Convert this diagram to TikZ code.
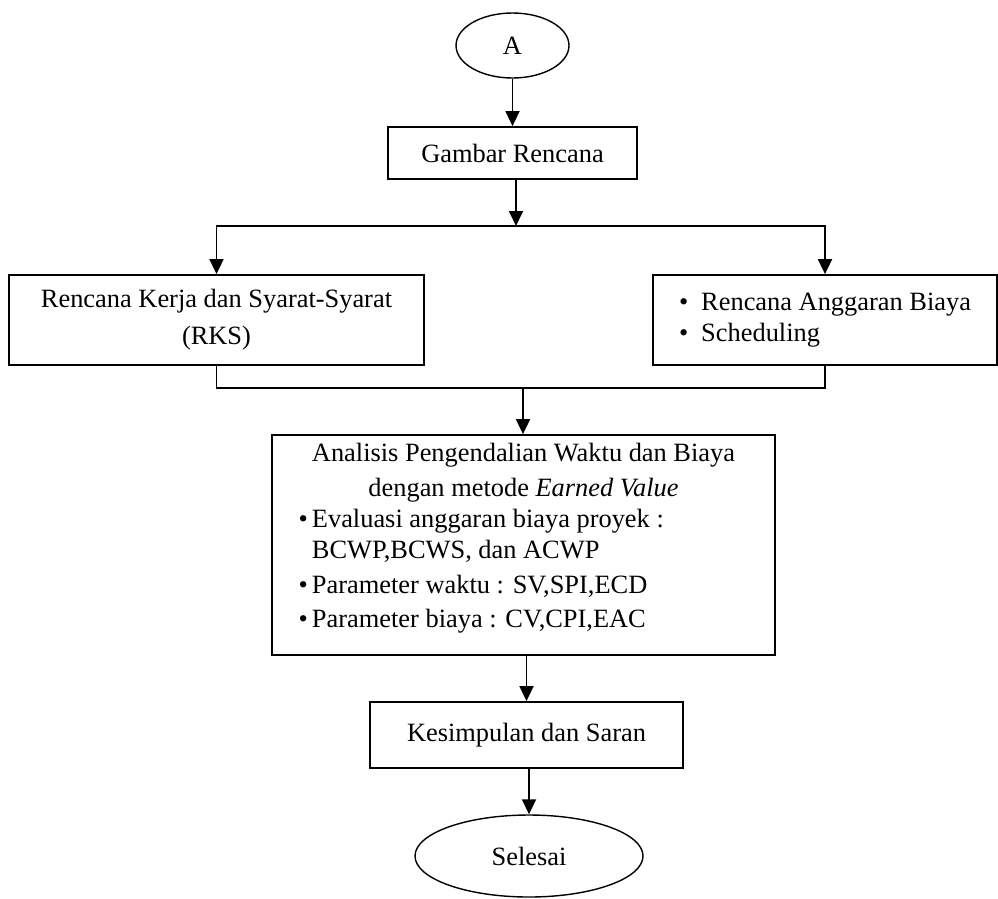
\documentclass[tikz,border=0pt]{standalone}
\usepackage{fontspec}
\setmainfont{Liberation Serif}
\usetikzlibrary{shapes.geometric,arrows.meta}

\begin{document}
\begin{tikzpicture}[x=1pt,y=-1pt,
  box/.style={draw,line width=1.8pt,rectangle,inner sep=0pt},
  oval/.style={draw,line width=1.4pt,ellipse,inner sep=0pt},
  conn/.style={line width=1.8pt},
  arr/.style={conn,-{Triangle[length=15pt,width=14pt]}},
  font=\fontsize{26.4}{31}\selectfont]
\useasboundingbox (0,0) rectangle (998,898);
\node[oval,minimum width=113pt,minimum height=65pt] (start) at (512.5,45.5) {A};
\node[box,minimum width=249pt,minimum height=52pt] (gambar) at (512.5,153) {Gambar Rencana};
\node[box,minimum width=415pt,minimum height=90pt,align=center] (rks) at (216.5,320) {Rencana Kerja dan Syarat-Syarat\\[6pt](RKS)};
\node[box,minimum width=344pt,minimum height=90pt] (rab) at (825,320) {\begin{tabular}{@{}l@{\hspace{13pt}}l@{}}
\textbullet & Rencana Anggaran Biaya\\
\textbullet & Scheduling
\end{tabular}};
\node[box,minimum width=503pt,minimum height=220pt] (analisis) at (523.5,545) {\begin{tabular}{@{}l@{}}
\multicolumn{1}{@{}c@{}}{Analisis Pengendalian Waktu dan Biaya}\\[4pt]
\multicolumn{1}{@{}c@{}}{dengan metode \textit{Earned Value}}\\
\llap{\textbullet\hspace{4pt}}Evaluasi anggaran biaya proyek :\\
BCWP,BCWS, dan ACWP\\[4pt]
\llap{\textbullet\hspace{4pt}}Parameter waktu : SV,SPI,ECD\\[3pt]
\llap{\textbullet\hspace{4pt}}Parameter biaya : CV,CPI,EAC\rule[-22pt]{0pt}{0pt}
\end{tabular}};
\node[box,minimum width=313pt,minimum height=66pt] (simpul) at (526.5,735) {Kesimpulan dan Saran};
\node[oval,minimum width=228pt,minimum height=82pt] (selesai) at (529,856) {Selesai};
\coordinate (split) at (516,226);
\coordinate (merge) at (523,388);
\draw[arr] (start) -- (gambar);
\draw[arr] (gambar.south -| split) -- (split);
\draw[arr] (split) -| (rks.north);
\draw[arr] (split) -| (rab.north);
\draw[conn] (rks.south) |- (merge) -| (rab.south);
\draw[arr] (merge) -- (merge |- analisis.north);
\draw[arr] (analisis.south -| simpul.north) -- (simpul.north);
\draw[arr] (simpul.south -| selesai.north) -- (selesai.north);
\end{tikzpicture}
\end{document}
